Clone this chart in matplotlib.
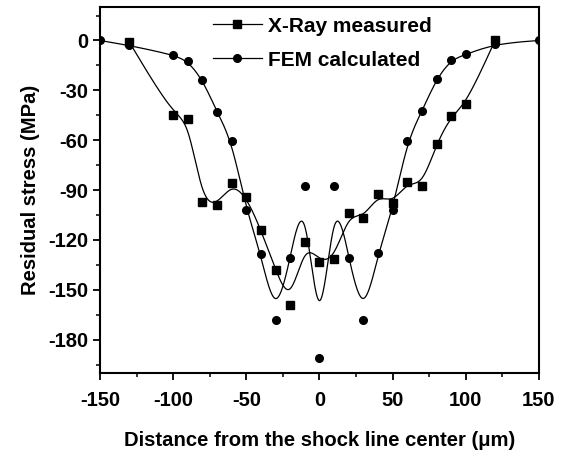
import numpy as np
import matplotlib
matplotlib.use("Agg")
import matplotlib.pyplot as plt
from matplotlib.ticker import MultipleLocator
from matplotlib.lines import Line2D

plt.rcParams['font.family'] = ['Liberation Sans', 'DejaVu Sans']
plt.rcParams['font.weight'] = 'bold'
plt.rcParams['axes.unicode_minus'] = False

xray_x = [-130, -100, -90, -80, -70, -60, -50, -40, -30, -20, -10, 0, 10, 20, 30, 40, 50, 60, 70, 80, 90, 100, 120]
xray_y = [-1, -45, -47, -97, -99, -86, -94, -114, -138, -159, -121.5, -133, -131.5, -104, -107, -92.5, -98, -85, -87.5, -62, -45.5, -38.5, 0]

fem_x = [-150, -130, -100, -90, -80, -70, -60, -50, -40, -30, -20, -10, 0, 10, 20, 30, 40, 50, 60, 70, 80, 90, 100, 120, 150]
fem_y = [0, -3, -8.6, -12.4, -23.5, -43, -60.3, -102, -128.5, -168, -131, -87.5, -191, -87.5, -131, -168, -128, -102, -60.3, -42.6, -23, -11.6, -8.4, -2, 0]

x_ticks = [-150, -100, -50, 0, 50, 100, 150]
y_ticks = [0, -30, -60, -90, -120, -150, -180]


def bspline(xs, ys, n=60):
    # Clamped uniform cubic B-spline using the data points as control points
    P = np.column_stack([xs, ys]).astype(float)
    P = np.vstack([P[0], P[0], P, P[-1], P[-1]])
    t = np.linspace(0, 1, n, endpoint=False)
    b0 = (1 - t) ** 3 / 6
    b1 = (3 * t ** 3 - 6 * t ** 2 + 4) / 6
    b2 = (-3 * t ** 3 + 3 * t ** 2 + 3 * t + 1) / 6
    b3 = t ** 3 / 6
    out = []
    for i in range(len(P) - 3):
        seg = (np.outer(b0, P[i]) + np.outer(b1, P[i + 1]) +
               np.outer(b2, P[i + 2]) + np.outer(b3, P[i + 3]))
        out.append(seg)
    out.append(P[-1][None, :])
    out = np.vstack(out)
    return out[:, 0], out[:, 1]


fig = plt.figure(figsize=(5.62, 4.51), dpi=100)
ax = fig.add_axes([0.178, 0.173, 0.781, 0.811])

bx, by = bspline(xray_x, xray_y)
fx, fy = bspline(fem_x, fem_y)

ax.plot(bx, by, color='black', lw=0.9)
ax.plot(xray_x, xray_y, 's', color='black', ms=5.5)
ax.plot(fx, fy, color='black', lw=0.9)
ax.plot(fem_x, fem_y, 'o', color='black', ms=5.5)

h1 = Line2D([], [], color='black', lw=0.9, marker='s', ms=5.5)
h2 = Line2D([], [], color='black', lw=0.9, marker='o', ms=5.5)
ax.legend([h1, h2], ['X-Ray measured', 'FEM calculated'], loc='upper left',
          bbox_to_anchor=(0.257, 0.974), frameon=False, borderpad=0,
          borderaxespad=0, prop={'size': 15, 'weight': 'bold'},
          handlelength=2.35, handletextpad=0.3, labelspacing=0.72)

ax.set_xlim(-150, 150)
ax.set_ylim(-200, 20)
ax.set_xticks(x_ticks)
ax.set_yticks(y_ticks)
ax.xaxis.set_minor_locator(MultipleLocator(25))
ax.yaxis.set_minor_locator(MultipleLocator(15))
ax.tick_params(which='major', direction='out', length=5, width=1.3, labelsize=14.5)
ax.tick_params(axis='x', which='major', pad=8)
ax.tick_params(which='minor', direction='out', length=3, width=1.1)
for lab in ax.get_xticklabels() + ax.get_yticklabels():
    lab.set_fontweight('bold')
for s in ax.spines.values():
    s.set_linewidth(1.5)

ax.set_xlabel('Distance from the shock line center (\u03bcm)', fontsize=14.6, fontweight='bold', labelpad=15)
ax.set_ylabel('Residual stress (MPa)', fontsize=14.6, fontweight='bold', labelpad=6)

fig.savefig('out.png', dpi=100)
